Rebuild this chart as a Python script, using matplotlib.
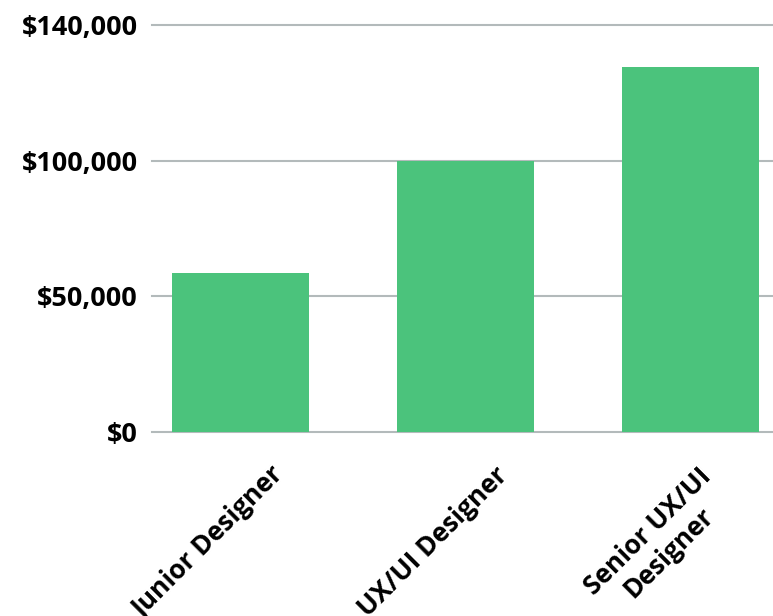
import numpy as np
import matplotlib.pyplot as plt
from matplotlib.transforms import offset_copy

plt.rcParams['font.family'] = ['Open Sans', 'DejaVu Sans']
plt.rcParams['font.weight'] = 'bold'

roles = ['Junior Designer', 'UX/UI Designer', 'Senior UX/UI\nDesigner']
salary = [58700, 100000, 134500]
ytick_vals = [0, 50000, 100000, 150000]
ytick_labels = ['$0', '$50,000', '$100,000', '$140,000']

bar_color = '#4bc37c'
grid_color = '#b3babb'

fig = plt.figure(figsize=(7.73, 6.16), dpi=100)
ax = fig.add_axes([152/773, (616-432)/616, 621/773, 407/616])

x = np.arange(len(roles))
ax.bar(x, salary, width=0.61, color=bar_color, zorder=2)

ax.set_xlim(-0.393, 2.367)
ax.set_ylim(0, 150000)
ax.set_yticks(ytick_vals)
ax.set_yticklabels(ytick_labels, fontsize=19.5, fontweight='bold')
ax.tick_params(axis='y', length=0, pad=10)
ax.set_xticks([])
for v in ytick_vals:
    ax.axhline(v, color=grid_color, lw=1.5, zorder=1, clip_on=False)
for s in ax.spines.values():
    s.set_visible(False)

# rotated category labels below the axis
for i, lab in enumerate(roles):
    tr = offset_copy(ax.get_xaxis_transform(), fig=fig, x=-32, y=-110, units='dots')
    ax.text(i, 0, lab, transform=tr, rotation=45, rotation_mode='anchor',
            ha='center', va='center', multialignment='center',
            linespacing=1.1, fontsize=19, fontweight='bold', clip_on=False)

fig.savefig('out.png', dpi=100)
